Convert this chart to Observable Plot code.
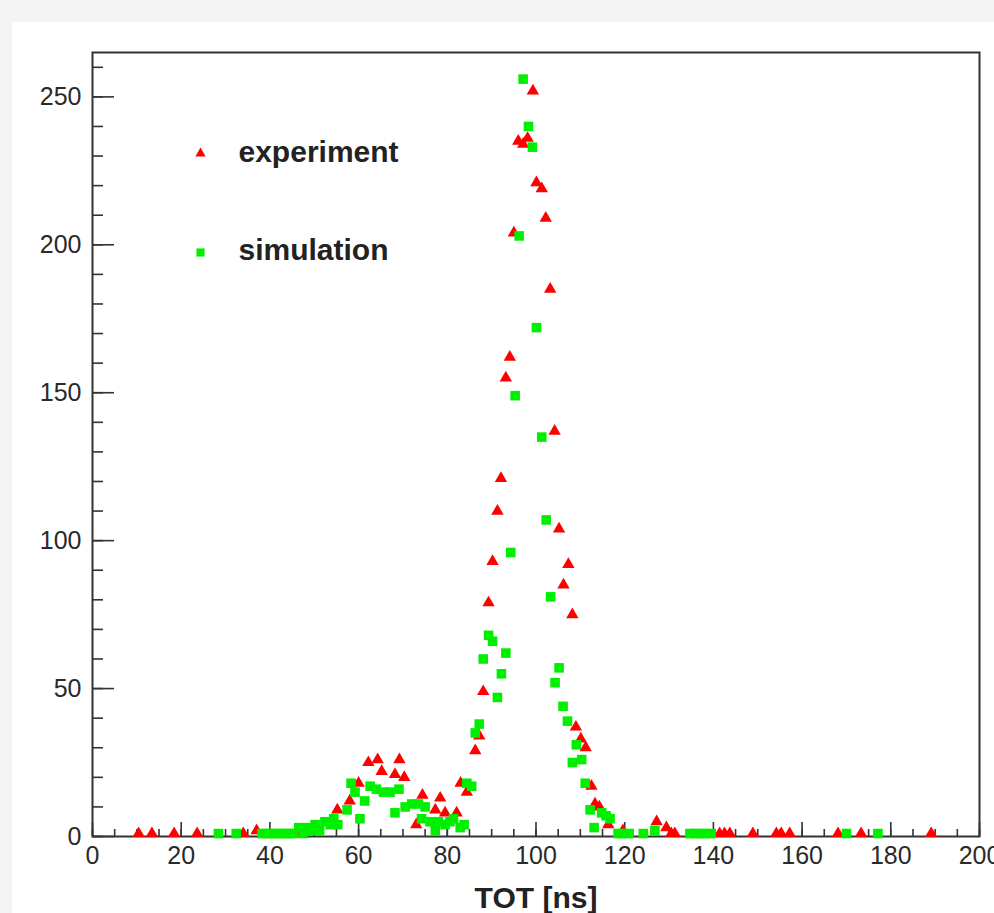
<!DOCTYPE html>
<html>
<head>
<meta charset="utf-8">
<script src="https://cdn.jsdelivr.net/npm/d3@7"></script>
<script src="https://cdn.jsdelivr.net/npm/@observablehq/plot@0.6"></script>
<style>
  html, body { margin: 0; padding: 0; overflow: hidden; background: #f3f3f3; }
  #paper { position: absolute; left: 12px; top: 22px; width: 982px; height: 891px; background: #ffffff; }
  #chart { position: absolute; left: 0; top: 0; }
</style>
</head>
<body>
<div id="paper"></div>
<div id="chart"></div>
<script>
// Experiment (red triangles): TOT [ns] and counts
const expX = [10.4,13.4,18.4,23.6,34,37,45.7,55.2,58,60,62.2,64.3,65.2,68.2,69.2,70.3,73,74.4,77.3,78.4,79.5,82.1,83,84.4,86.3,87.2,88.1,89.3,90.2,91.3,92.1,93.2,94.1,95,96,97.1,98.1,99.3,100.1,101.3,102.2,103.2,104.2,105.2,106.2,107.3,108.2,109,110.1,111.2,112.5,113.3,114.3,116.3,119.6,127.2,129.4,130.5,131.3,141.4,142.5,143.7,148.9,154.2,155.3,157.2,168.1,173.3,189.1];
const expY = [1,1,1,1,1,2,1,9,12,18,25,26,22,21,26,20,4,14,9,13,8,8,18,15,29,34,49,79,93,110,121,155,162,204,235,234,236,252,221,219,209,185,137,104,85,92,75,37,33,30,17,11,10,4,2,5,3,1,1,1,1,1,1,1,1,1,1,1,1];

// Simulation (green squares)
const simX = [28.4,32.4,38.2,39.2,40.2,41.2,42.3,43.3,44.3,45.3,46.5,47.5,48.4,49.5,50.2,51.2,52.4,53.6,54.4,55.3,57.4,58.3,59.2,60.3,61.4,62.6,64,65.6,67.1,68.2,69.1,70.5,72,73.5,74.2,75,76.1,77.3,78,79.5,80.6,81.4,82.9,83.8,84.4,85.5,86.3,87.2,88.1,89.3,90.2,91.3,92.2,93.2,94.3,95.3,96.2,97.1,98.3,99.2,100.1,101.3,102.3,103.3,104.3,105.2,106.1,107.1,108.2,109.1,110.3,111.1,112.2,113.1,114.8,115.8,116.7,118.5,119.5,121,124.2,126.8,134.7,135.9,137,138.2,139.5,170,177.1];
const simY = [1,1,1,1,1,1,1,1,1,1,3,1,3,2,4,2,5,4,6,4,9,18,15,6,12,17,16,15,15,8,16,10,11,11,6,10,5,2,5,4,5,6,3,4,18,17,35,38,60,68,66,47,55,62,96,149,203,256,240,233,172,135,107,81,52,57,44,39,25,31,26,18,9,3,8,7,6,1,1,1,1,2,1,1,1,1,1,1,1];

// Axis ticks
const xMajor = [0,20,40,60,80,100,120,140,160,180,200];
const xMinor = d3.range(0, 201, 5);
const yMajor = [0,50,100,150,200,250];
const yMinor = d3.range(0, 261, 10);

const seriesNames = ["experiment", "simulation"];
const colors = ["#ff0000", "#00ee00"];

const exp = expX.map((x, i) => ({x, y: expY[i]}));
const sim = simX.map((x, i) => ({x, y: simY[i]}));

const axisCol = "#333333";
const chart = Plot.plot({
  width: 994,
  height: 913,
  marginLeft: 92,
  marginRight: 15,
  marginTop: 52,
  marginBottom: 77,
  x: {domain: [0, 200], label: null},
  y: {domain: [0, 265], label: null},
  style: {background: "transparent", overflow: "visible", fontFamily: "'Liberation Sans', Arial, sans-serif", color: "#222"},
  marks: [
    Plot.axisX({ticks: xMinor, tickSize: -7, tickFormat: () => "", label: null, stroke: axisCol, strokeWidth: 1.6}),
    Plot.axisX({ticks: xMajor, tickSize: -14, tickFormat: () => "", label: null, stroke: axisCol, strokeWidth: 1.6}),
    Plot.axisX({ticks: xMajor, tickSize: 0, tickPadding: 10, label: null, fontSize: 25, fill: "#2a2a2a"}),
    Plot.axisY({ticks: yMinor, tickSize: -11, tickFormat: () => "", label: null, stroke: axisCol, strokeWidth: 1.6}),
    Plot.axisY({ticks: yMajor, tickSize: -22, tickFormat: () => "", label: null, stroke: axisCol, strokeWidth: 1.6}),
    Plot.axisY({ticks: yMajor, tickSize: 0, tickPadding: 11, label: null, fontSize: 25, fill: "#2a2a2a"}),
    Plot.frame({stroke: axisCol, strokeWidth: 2}),
    Plot.dot(exp, {x: "x", y: "y", symbol: "triangle", r: 4.6, fill: colors[0], stroke: "none"}),
    Plot.dot(sim, {x: "x", y: "y", symbol: "square", r: 5.4, fill: colors[1], stroke: "none"}),
    // legend
    Plot.dot([seriesNames[0]], {frameAnchor: "top-left", dx: 108, dy: 101, symbol: "triangle", r: 3.8, fill: colors[0]}),
    Plot.text([seriesNames[0]], {frameAnchor: "top-left", lineAnchor: "middle", dx: 146, dy: 100, text: d => d, textAnchor: "start", fontSize: 30, fontWeight: "bold", fill: "#222"}),
    Plot.dot([seriesNames[1]], {frameAnchor: "top-left", dx: 108, dy: 200, symbol: "square", r: 4.6, fill: colors[1]}),
    Plot.text([seriesNames[1]], {frameAnchor: "top-left", lineAnchor: "middle", dx: 146, dy: 198, text: d => d, textAnchor: "start", fontSize: 30, fontWeight: "bold", fill: "#222"}),
    // x title
    Plot.text(["TOT [ns]"], {frameAnchor: "bottom", lineAnchor: "middle", dy: 62, text: d => d, fontSize: 30, fontWeight: "bold", fill: "#222"})
  ]
});
document.getElementById("chart").appendChild(chart);
</script>
</body>
</html>
